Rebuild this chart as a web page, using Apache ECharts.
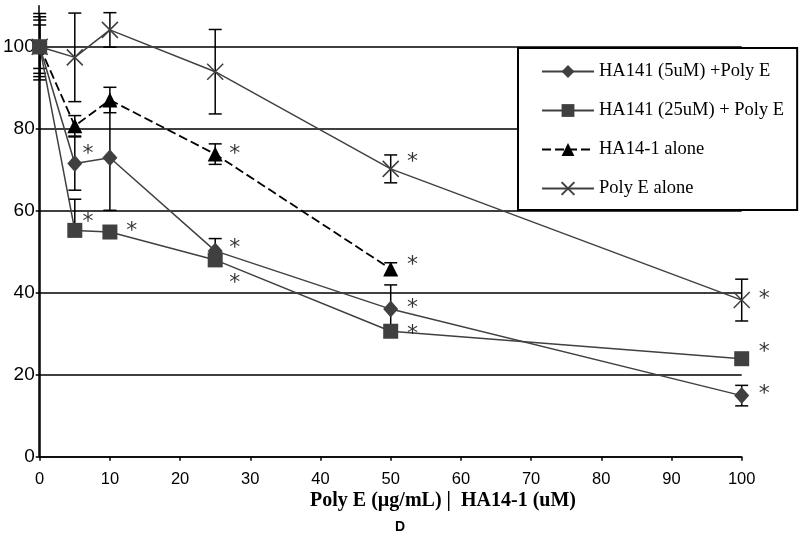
<!DOCTYPE html>
<html>
<head>
<meta charset="utf-8">
<script src="https://cdn.jsdelivr.net/npm/echarts@6/dist/echarts.min.js"></script>
<style>html,body{margin:0;padding:0;background:#fff}#c{width:800px;height:537px}</style>
</head>
<body>
<div id="c"></div>
<script>
// ---- data ----
const xValues = [0, 5, 10, 25, 50, 100];
const yTicks = [0, 20, 40, 60, 80, 100];
const seriesNames = ['HA141 (5uM) +Poly E', 'HA141 (25uM) + Poly E', 'HA14-1 alone', 'Poly E alone'];

const diamondY = [100, 71.5, 72.9, 50.2, 36.0, 14.9];
const diamondErrPlus = [5.3, 6.5, 12.8, 3.0, 5.9, 2.5];
const diamondErrMinus = [5.3, 6.5, 12.8, 3.0, 5.9, 2.5];

const squareY = [100, 55.2, 54.8, 48.0, 30.6, 23.9];
const squareErrPlus = [6.5, 7.6, 0, 0, 0, 0];
const squareErrMinus = [6.5, 0, 0, 0, 0, 0];

const triangleX = [0, 5, 10, 25, 50];
const triangleY = [100, 80.7, 87.0, 73.8, 45.8];
const triangleErrPlus = [7.3, 2.5, 3.1, 2.5, 1.5];
const triangleErrMinus = [7.3, 2.5, 3.1, 2.5, 1.5];

const crossY = [100, 97.4, 104.1, 93.9, 70.2, 38.2];
const crossErrPlus = [8.1, 10.8, 4.2, 10.3, 3.4, 5.1];
const crossErrMinus = [8.1, 10.8, 4.2, 10.3, 3.4, 5.1];

// significance stars (x, y in data units)
const starX = [6.87, 6.87, 13.1, 27.8, 27.8, 27.8, 53.1, 53.1, 53.1, 53.1, 103.2, 103.2, 103.2];
const starY = [75.0, 58.4, 56.3, 75.0, 52.0, 43.5, 73.0, 48.0, 37.4, 31.1, 39.6, 26.8, 16.4];

const xAxisTitle = 'Poly E (µg/mL) |  HA14-1 (uM)';
const panelLabel = 'D';

// ---- build ----
const GRAY = '#404040';
function pairs(xs, ys) { return xs.map((x, i) => [x, ys[i]]); }
function errData(xs, ys, plus, minus) { return xs.map((x, i) => [x, ys[i], plus[i], minus[i]]); }

const errItems = []
  .concat(errData(xValues, diamondY, diamondErrPlus, diamondErrMinus))
  .concat(errData(xValues, squareY, squareErrPlus, squareErrMinus))
  .concat(errData(triangleX, triangleY, triangleErrPlus, triangleErrMinus))
  .concat(errData(xValues, crossY, crossErrPlus, crossErrMinus));

function renderErr(params, api) {
  const x = api.value(0), y = api.value(1), up = api.value(2), dn = api.value(3);
  if (!(up > 0) && !(dn > 0)) return { type: 'group', children: [] };
  const top = api.coord([x, y + up]);
  const bot = api.coord([x, y - dn]);
  const half = 6.5;
  const st = { stroke: '#000', lineWidth: 1.5 };
  const children = [{ type: 'line', shape: { x1: top[0], y1: top[1], x2: bot[0], y2: bot[1] }, style: st }];
  if (up > 0) children.push({ type: 'line', shape: { x1: top[0] - half, y1: top[1], x2: top[0] + half, y2: top[1] }, style: st });
  if (dn > 0) children.push({ type: 'line', shape: { x1: bot[0] - half, y1: bot[1], x2: bot[0] + half, y2: bot[1] }, style: st });
  return { type: 'group', children };
}

const chart = echarts.init(document.getElementById('c'), null, { renderer: 'canvas' });
const gridPos = { left: 38.7, right: 58.3, bottom: 80.3 };

chart.setOption({
  animation: false,
  backgroundColor: '#fff',
  grid: [
    Object.assign({ top: 46.7 }, gridPos),
    Object.assign({ top: 5.7 }, gridPos)
  ],
  xAxis: [
    {
      gridIndex: 0, type: 'value', min: 0, max: 100, interval: 10,
      axisLine: { lineStyle: { color: '#000', width: 1.5 } },
      axisTick: { show: true, inside: false, length: 4, lineStyle: { color: '#000', width: 1.5 } },
      axisLabel: { color: '#000', fontFamily: 'Liberation Sans', fontSize: 16.5, margin: 14 },
      splitLine: { show: false }
    },
    { gridIndex: 1, type: 'value', min: 0, max: 100, show: false }
  ],
  yAxis: [
    {
      gridIndex: 0, type: 'value', min: 0, max: 100, interval: 20,
      axisLine: { show: true, lineStyle: { color: '#000', width: 1.5 } },
      axisTick: { show: true, inside: false, length: 4, lineStyle: { color: '#000', width: 1.5 } },
      axisLabel: { color: '#000', fontFamily: 'Liberation Sans', fontSize: 19, margin: 5 },
      splitLine: { show: true, lineStyle: { color: '#000', width: 1.5 } }
    },
    {
      gridIndex: 1, type: 'value', min: 0, max: 110,
      axisLine: { show: true, lineStyle: { color: '#000', width: 1.5 } },
      axisTick: { show: false }, axisLabel: { show: false }, splitLine: { show: false }
    }
  ],
  legend: {
    orient: 'vertical', left: 518, top: 48,
    itemWidth: 52, itemHeight: 16, itemGap: 20,
    padding: [14, 13, 12, 23],
    backgroundColor: '#fff', borderColor: '#000', borderWidth: 2, borderRadius: 0,
    textStyle: { fontFamily: 'Liberation Serif', fontSize: 18.5, color: '#000' },
    data: seriesNames,
    z: 20
  },
  graphic: [
    { type: 'text', x: 443, y: 501, style: { text: xAxisTitle, font: 'bold 20px "Liberation Serif"', fill: '#000', textAlign: 'center', textVerticalAlign: 'middle' }, z: 10 },
    { type: 'text', x: 400, y: 527, style: { text: panelLabel, font: 'bold 14px "Liberation Sans"', fill: '#000', textAlign: 'center', textVerticalAlign: 'middle' }, z: 10 }
  ],
  series: [
    {
      type: 'custom', name: 'errors', xAxisIndex: 0, yAxisIndex: 0,
      renderItem: renderErr, data: errItems, clip: false, z: 2,
      encode: { x: 0, y: 1 }, silent: true
    },
    {
      type: 'line', name: seriesNames[0], data: pairs(xValues, diamondY),
      symbol: 'diamond', symbolSize: [15, 17], clip: false, z: 4,
      lineStyle: { color: GRAY, width: 1.5 }, itemStyle: { color: GRAY }
    },
    {
      type: 'line', name: seriesNames[1], data: pairs(xValues, squareY),
      symbol: 'rect', symbolSize: 15, clip: false, z: 5,
      lineStyle: { color: GRAY, width: 1.5 }, itemStyle: { color: GRAY }
    },
    {
      type: 'line', name: seriesNames[2], data: pairs(triangleX, triangleY),
      symbol: 'triangle', symbolSize: [15, 15], clip: false, z: 4,
      lineStyle: { color: '#000', width: 1.8, type: [9, 4] }, itemStyle: { color: '#000' }
    },
    {
      type: 'line', name: seriesNames[3], data: pairs(xValues, crossY),
      symbol: 'path://M0,0L10,10M10,0L0,10', symbolSize: 16, clip: false, z: 4,
      lineStyle: { color: GRAY, width: 1.5 },
      itemStyle: { color: 'rgba(0,0,0,0)', borderColor: GRAY, borderWidth: 1.5 }
    },
    {
      type: 'scatter', name: 'stars', data: pairs(starX, starY),
      symbol: 'circle', symbolSize: 1, clip: false, z: 6, silent: true,
      itemStyle: { color: 'rgba(0,0,0,0)' },
      label: { show: true, position: 'inside', formatter: '*', color: '#000', fontFamily: 'DejaVu Sans', fontSize: 22, offset: [0, 5] }
    }
  ]
});
</script>
</body>
</html>
